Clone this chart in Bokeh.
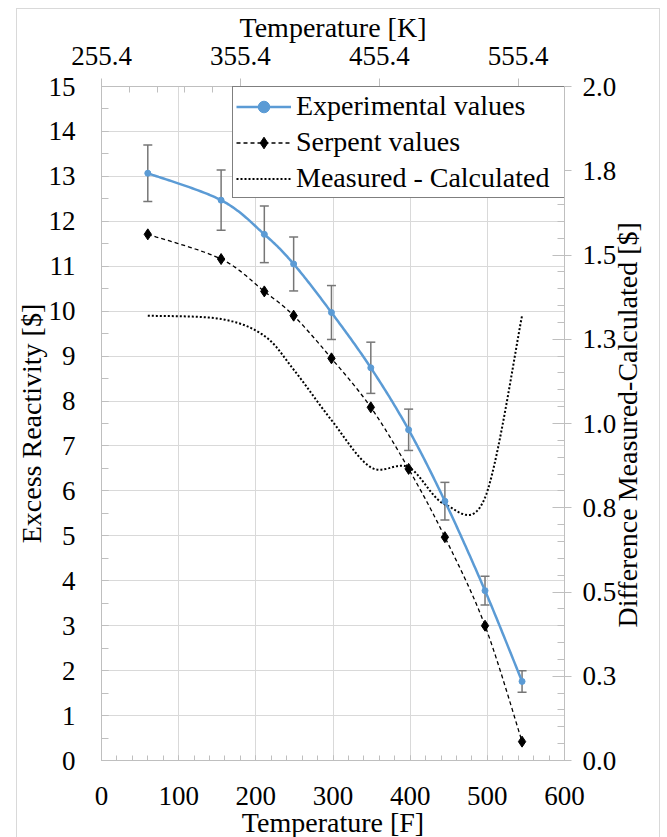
import math
import numpy as np
from bokeh.plotting import figure
from bokeh.models import (Range1d, LinearAxis, FixedTicker, Whisker, TeeHead,
                          ColumnDataSource, Legend, LegendItem)
from bokeh.embed import file_html
from bokeh.resources import INLINE

# ---- data -------------------------------------------------------------
temp_f = [60, 155, 211, 249, 298, 349, 398, 445, 497, 545]
experimental = [13.07, 12.47, 11.71, 11.05, 9.97, 8.74, 7.36, 5.77, 3.78, 1.76]
exp_error = [0.63, 0.67, 0.63, 0.60, 0.60, 0.57, 0.46, 0.42, 0.32, 0.24]
serpent = [11.71, 11.16, 10.44, 9.90, 8.95, 7.86, 6.49, 4.97, 3.00, 0.42]
difference = [1.32, 1.31, 1.26, 1.16, 1.01, 0.87, 0.87, 0.76, 0.78, 1.32]

kelvin_tick_labels = [255.4, 355.4, 455.4, 555.4]
diff_tick_labels = ["0.0", "0.3", "0.5", "0.8", "1.0", "1.3", "1.5", "1.8", "2.0"]

FONT = "Liberation Serif"
BLUE = "#5B9BD5"
GRID = "#D9D9D9"
AXIS = "#BFBFBF"


def f_to_k(f):
    return (f - 32.0) * 5.0 / 9.0 + 273.15


def smooth(xs, ys, n=30):
    """Spreadsheet-style smoothed line: cubic Bezier segments through the points."""
    xs = np.asarray(xs, float)
    ys = np.asarray(ys, float)
    m = len(xs)
    px, py = [], []
    t = np.linspace(0, 1, n)
    for i in range(m - 1):
        a = i - 1 if i > 0 else i
        d = i + 2 if i + 2 < m else i + 1
        c1x = xs[i] + (xs[i + 1] - xs[a]) / 6
        c1y = ys[i] + (ys[i + 1] - ys[a]) / 6
        c2x = xs[i + 1] - (xs[d] - xs[i]) / 6
        c2y = ys[i + 1] - (ys[d] - ys[i]) / 6
        b0 = (1 - t) ** 3
        b1 = 3 * (1 - t) ** 2 * t
        b2 = 3 * (1 - t) * t ** 2
        b3 = t ** 3
        bx = b0 * xs[i] + b1 * c1x + b2 * c2x + b3 * xs[i + 1]
        by = b0 * ys[i] + b1 * c1y + b2 * c2y + b3 * ys[i + 1]
        if i > 0:
            bx, by = bx[1:], by[1:]
        px.extend(bx)
        py.extend(by)
    return px, py


# ---- figure -----------------------------------------------------------
# thin light-grey chart frame (left, top, right edges) painted behind a transparent
# canvas; the canvas runs a little past the bottom of the page, where it is cut
edge = "linear-gradient(#D9D9D9, #D9D9D9)"
page_styles = {
    "position": "fixed",
    "left": "0px",
    "top": "0px",
    "background-color": "white",
    "background-image": ", ".join([edge] * 3),
    "background-size": "1px 900px, 644px 1px, 1px 900px",
    "background-position": "16px 8px, 16px 8px, 659px 8px",
    "background-repeat": "no-repeat",
}

p = figure(width=667, height=853, x_range=Range1d(0, 600), y_range=Range1d(0, 15),
           output_backend="svg", toolbar_location=None,
           min_border_left=101, min_border_right=103, min_border_top=86,
           min_border_bottom=93, background_fill_color="white",
           border_fill_color=None, styles=page_styles)
p.outline_line_color = None
p.extra_x_ranges = {"kelvin": Range1d(f_to_k(0), f_to_k(600))}
p.extra_y_ranges = {"diff": Range1d(0, 2)}

left_ticker = FixedTicker(ticks=list(range(0, 16)),
                          minor_ticks=[v * 0.5 for v in range(0, 31)])
bottom_ticker = FixedTicker(ticks=list(range(0, 601, 100)),
                            minor_ticks=list(range(0, 601, 20)))
right_ticks = [i * 0.25 for i in range(9)]
right_ticker = FixedTicker(ticks=right_ticks, minor_ticks=[i * 0.05 for i in range(41)])
top_ticker = FixedTicker(ticks=kelvin_tick_labels,
                         minor_ticks=[kelvin_tick_labels[0] + 20 * i for i in range(17)])

p.xgrid.ticker = bottom_ticker
p.ygrid.ticker = left_ticker
for g in (p.xgrid[0], p.ygrid[0]):
    g.grid_line_color = GRID
    g.grid_line_width = 1


def style_axis(ax):
    ax.axis_line_color = AXIS
    ax.major_tick_line_color = AXIS
    ax.minor_tick_line_color = AXIS
    ax.major_label_text_font = FONT
    ax.major_label_text_font_size = "27px"
    ax.major_label_text_color = "black"
    ax.axis_label_text_font = FONT
    ax.axis_label_text_font_size = "28px"
    ax.axis_label_text_font_style = "normal"
    ax.axis_label_text_color = "black"


xb = p.xaxis[0]
xb.ticker = bottom_ticker
xb.axis_label = "Temperature [F]"
style_axis(xb)
xb.major_tick_in, xb.major_tick_out = 5, 0
xb.minor_tick_in, xb.minor_tick_out = 5, 0
xb.major_label_standoff = 26
xb.axis_label_standoff = -1

yl = p.yaxis[0]
yl.ticker = left_ticker
yl.axis_label = "Excess Reactivity [$]"
style_axis(yl)
yl.major_tick_in, yl.major_tick_out = 7, 0
yl.minor_tick_in, yl.minor_tick_out = 7, 0
yl.major_label_standoff = 26
yl.axis_label_standoff = -1

# secondary value axis (ticks and numbers)
yr = LinearAxis(y_range_name="diff", ticker=right_ticker,
                major_label_overrides={t: lab for t, lab in zip(right_ticks, diff_tick_labels)})
style_axis(yr)
yr.major_tick_in, yr.major_tick_out = 12, 7
yr.minor_tick_in, yr.minor_tick_out = 7, 0
yr.major_label_standoff = 11
p.add_layout(yr, "right")

# its title, reading upwards: the rotated text starts at the foot of the axis,
# so a run of no-break spaces lifts the words to the middle
lift = "\u00a0" * 19
yr_title = LinearAxis(y_range_name="diff", ticker=FixedTicker(ticks=[]),
                      axis_label=lift + "Difference Measured-Calculated [$]")
style_axis(yr_title)
yr_title.axis_line_color = None
yr_title.major_tick_in = yr_title.major_tick_out = 0
yr_title.minor_tick_in = yr_title.minor_tick_out = 0
yr_title.axis_label_standoff = 8
yr_title.axis_label_orientation = math.pi / 2
yr_title.axis_label_align = "start"
p.add_layout(yr_title, "right")

xt = LinearAxis(x_range_name="kelvin", ticker=top_ticker, axis_label="Temperature [K]")
style_axis(xt)
xt.formatter.use_scientific = False
xt.major_tick_in, xt.major_tick_out = 0, 8
xt.minor_tick_in, xt.minor_tick_out = 6, 0
xt.major_label_standoff = 14
xt.axis_label_standoff = 1
p.add_layout(xt, "above")

# ---- series -----------------------------------------------------------
dx, dy = smooth(temp_f, difference)
diff_line = p.line(dx, dy, y_range_name="diff", line_color="black",
                   line_width=2, line_dash="2 2")

err_src = ColumnDataSource(dict(
    x=temp_f,
    upper=[v + e for v, e in zip(experimental, exp_error)],
    lower=[v - e for v, e in zip(experimental, exp_error)],
))
whisk = Whisker(source=err_src, base="x", upper="upper", lower="lower",
                line_color="#767676", line_width=1.5,
                upper_head=TeeHead(size=9, line_color="#767676", line_width=1.5),
                lower_head=TeeHead(size=9, line_color="#767676", line_width=1.5))
whisk.level = "underlay"
p.add_layout(whisk)

sx, sy = smooth(temp_f, serpent)
serp_line = p.line(sx, sy, line_color="black", line_width=1.3, line_dash="4 3")
serp_pts = p.scatter(temp_f, serpent, marker="diamond", size=11,
                     fill_color="black", line_color="black")

ex, ey = smooth(temp_f, experimental)
exp_line = p.line(ex, ey, line_color=BLUE, line_width=2.5)
exp_pts = p.scatter(temp_f, experimental, marker="circle", size=6,
                    fill_color=BLUE, line_color=BLUE)

legend = Legend(items=[
    LegendItem(label="Experimental values", renderers=[exp_line, exp_pts]),
    LegendItem(label="Serpent values", renderers=[serp_line, serp_pts]),
    LegendItem(label="Measured - Calculated", renderers=[diff_line]),
], location=(131, 562))
legend.label_text_font = FONT
legend.label_text_font_size = "28px"
legend.label_text_color = "black"
legend.border_line_color = "black"
legend.border_line_width = 1
legend.background_fill_color = "white"
legend.background_fill_alpha = 1
legend.glyph_width = 55
legend.glyph_height = 29
legend.label_height = 29
legend.label_width = 268
legend.label_standoff = 5
legend.padding = 3
legend.spacing = 4
legend.margin = 0
p.add_layout(legend)

open("out.html", "w").write(file_html(p, INLINE))
